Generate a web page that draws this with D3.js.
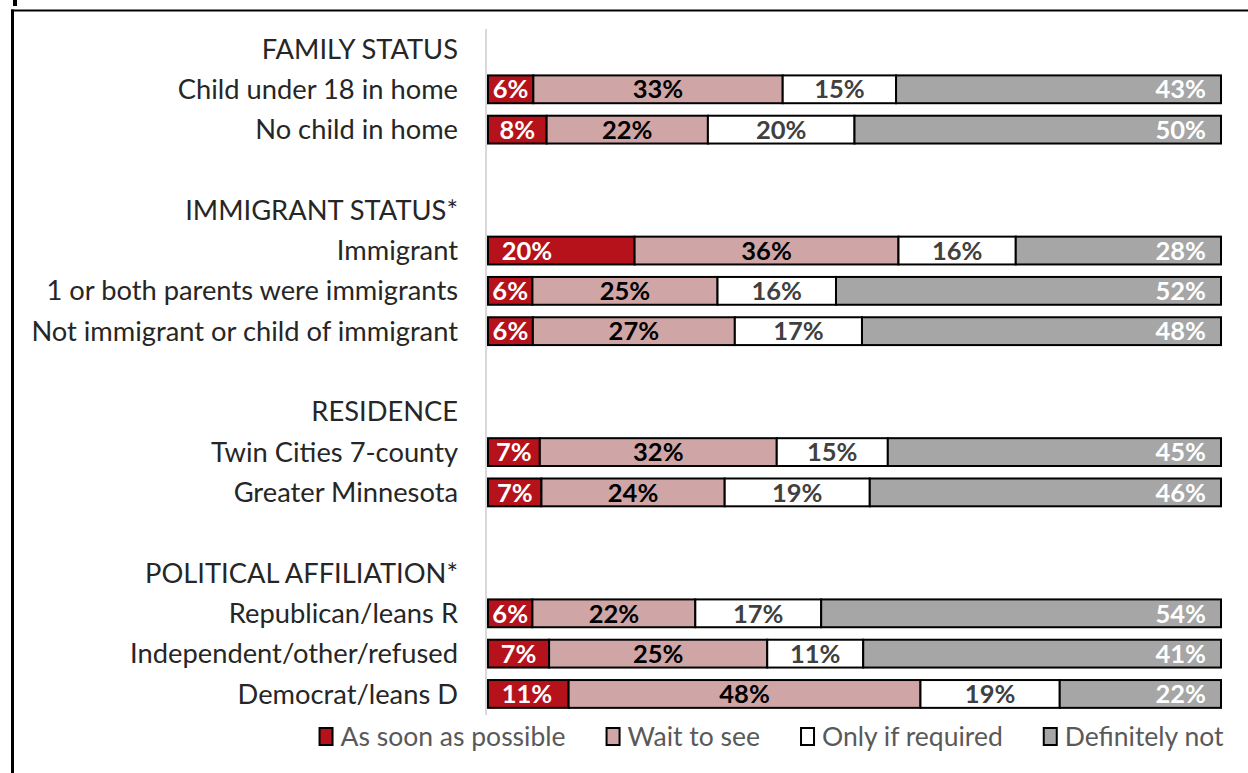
<!DOCTYPE html>
<html>
<head>
<meta charset="utf-8">
<script src="https://cdn.jsdelivr.net/npm/d3@7"></script>
<style>
  html, body { margin: 0; padding: 0; background: #fff; }
  svg { display: block; }
</style>
</head>
<body>
<svg id="chart" width="1248" height="773"></svg>
<script>
// Row order top to bottom; section headers and blank spacer rows included
const rows = [
  "FAMILY STATUS", "Child under 18 in home", "No child in home", "",
  "IMMIGRANT STATUS*", "Immigrant", "1 or both parents were immigrants", "Not immigrant or child of immigrant", " ",
  "RESIDENCE", "Twin Cities 7-county", "Greater Minnesota", "  ",
  "POLITICAL AFFILIATION*", "Republican/leans R", "Independent/other/refused", "Democrat/leans D"
];

const categories = [
  "Child under 18 in home", "No child in home",
  "Immigrant", "1 or both parents were immigrants", "Not immigrant or child of immigrant",
  "Twin Cities 7-county", "Greater Minnesota",
  "Republican/leans R", "Independent/other/refused", "Democrat/leans D"
];
const seriesNames = ["As soon as possible", "Wait to see", "Only if required", "Definitely not"];
const asSoonAsPossible = [6, 8, 20, 6, 6, 7, 7, 6, 7, 11];
const waitToSee        = [33, 22, 36, 25, 27, 32, 24, 22, 25, 48];
const onlyIfRequired   = [15, 20, 16, 16, 17, 15, 19, 17, 11, 19];
const definitelyNot    = [43, 50, 28, 52, 48, 45, 46, 54, 41, 22];

const colors = ["#B5121B", "#CFA5A6", "#FFFFFF", "#A6A6A6"];
const labelColors = ["#FFFFFF", "#000000", "#404040", "#FFFFFF"];

const table = categories.map((c, i) => ({
  category: c,
  [seriesNames[0]]: asSoonAsPossible[i],
  [seriesNames[1]]: waitToSee[i],
  [seriesNames[2]]: onlyIfRequired[i],
  [seriesNames[3]]: definitelyNot[i]
}));

const svg = d3.select("#chart");
const FONT = "Lato, 'Open Sans', sans-serif";

// outer frame
svg.append("line").attr("x1", 11).attr("x2", 1248).attr("y1", 10.5).attr("y2", 10.5)
  .attr("stroke", "#000").attr("stroke-width", 2);
svg.append("line").attr("x1", 12.5).attr("x2", 12.5).attr("y1", 9.5).attr("y2", 773)
  .attr("stroke", "#000").attr("stroke-width", 3);
svg.append("rect").attr("x", 13).attr("y", 0).attr("width", 4).attr("height", 6).attr("fill", "#000");

const y = d3.scaleBand().domain(rows).range([28.85, 714.1])
  .paddingInner(0.31).paddingOuter(0.155);
const x = d3.scaleLinear().domain([0, 1]).range([488, 1221]);

// vertical category axis line
svg.append("line").attr("x1", 486).attr("x2", 486).attr("y1", 29).attr("y2", 715)
  .attr("stroke", "#D9D9D9").attr("stroke-width", 2);

// row labels
const yAxis = d3.axisLeft(y).tickSize(0).tickPadding(0);
const gy = svg.append("g").attr("transform", "translate(458,0)").call(yAxis);
gy.select(".domain").remove();
gy.selectAll("text")
  .attr("font-family", FONT).attr("font-size", 27.3).attr("fill", "#262626")
  .attr("dy", "0.35em");

// stacked bars, each row normalised to full width
const stack = d3.stack().keys(seriesNames).offset(d3.stackOffsetExpand);
const series = stack(table);

const groups = svg.append("g").selectAll("g").data(series).join("g");
groups.selectAll("rect").data(d => d.map(v => ({ v, key: d.key }))).join("rect")
  .attr("x", d => x(d.v[0]))
  .attr("y", d => y(d.v.data.category))
  .attr("width", d => x(d.v[1]) - x(d.v[0]))
  .attr("height", y.bandwidth())
  .attr("fill", d => colors[seriesNames.indexOf(d.key)])
  .attr("stroke", "#000").attr("stroke-width", 2);

// value labels
groups.each(function(s, si) {
  d3.select(this).selectAll("text").data(s).join("text")
    .attr("x", d => {
      const x0 = x(d[0]), x1 = x(d[1]), cx = (x0 + x1) / 2;
      if (si === 0) return Math.min(cx, x0 + 39);
      if (si === 3) return x1 - 15;
      return cx;
    })
    .attr("y", d => y(d.data.category) + y.bandwidth() / 2)
    .attr("dy", "0.36em")
    .attr("text-anchor", si === 3 ? "end" : "middle")
    .attr("font-family", FONT).attr("font-weight", "bold").attr("font-size", 25.5)
    .attr("fill", labelColors[si])
    .text(d => d.data[s.key] + "%");
});

// legend
const legend = svg.append("g");
const gap = 40;
let lx = 0;
seriesNames.forEach((name, i) => {
  const g = legend.append("g").attr("transform", `translate(${lx},0)`);
  g.append("rect").attr("x", 1).attr("y", -9).attr("width", 13).attr("height", 17)
    .attr("fill", colors[i]).attr("stroke", "#000").attr("stroke-width", 2);
  const t = g.append("text").attr("x", 22).attr("y", 0).attr("dy", "0.35em")
    .attr("font-family", FONT).attr("font-size", 26.5).attr("fill", "#595959").text(name);
  lx += 22 + t.node().getComputedTextLength() + gap;
});
const lw = lx - gap;
legend.attr("transform", `translate(${771 - lw / 2},737)`);
</script>
</body>
</html>
